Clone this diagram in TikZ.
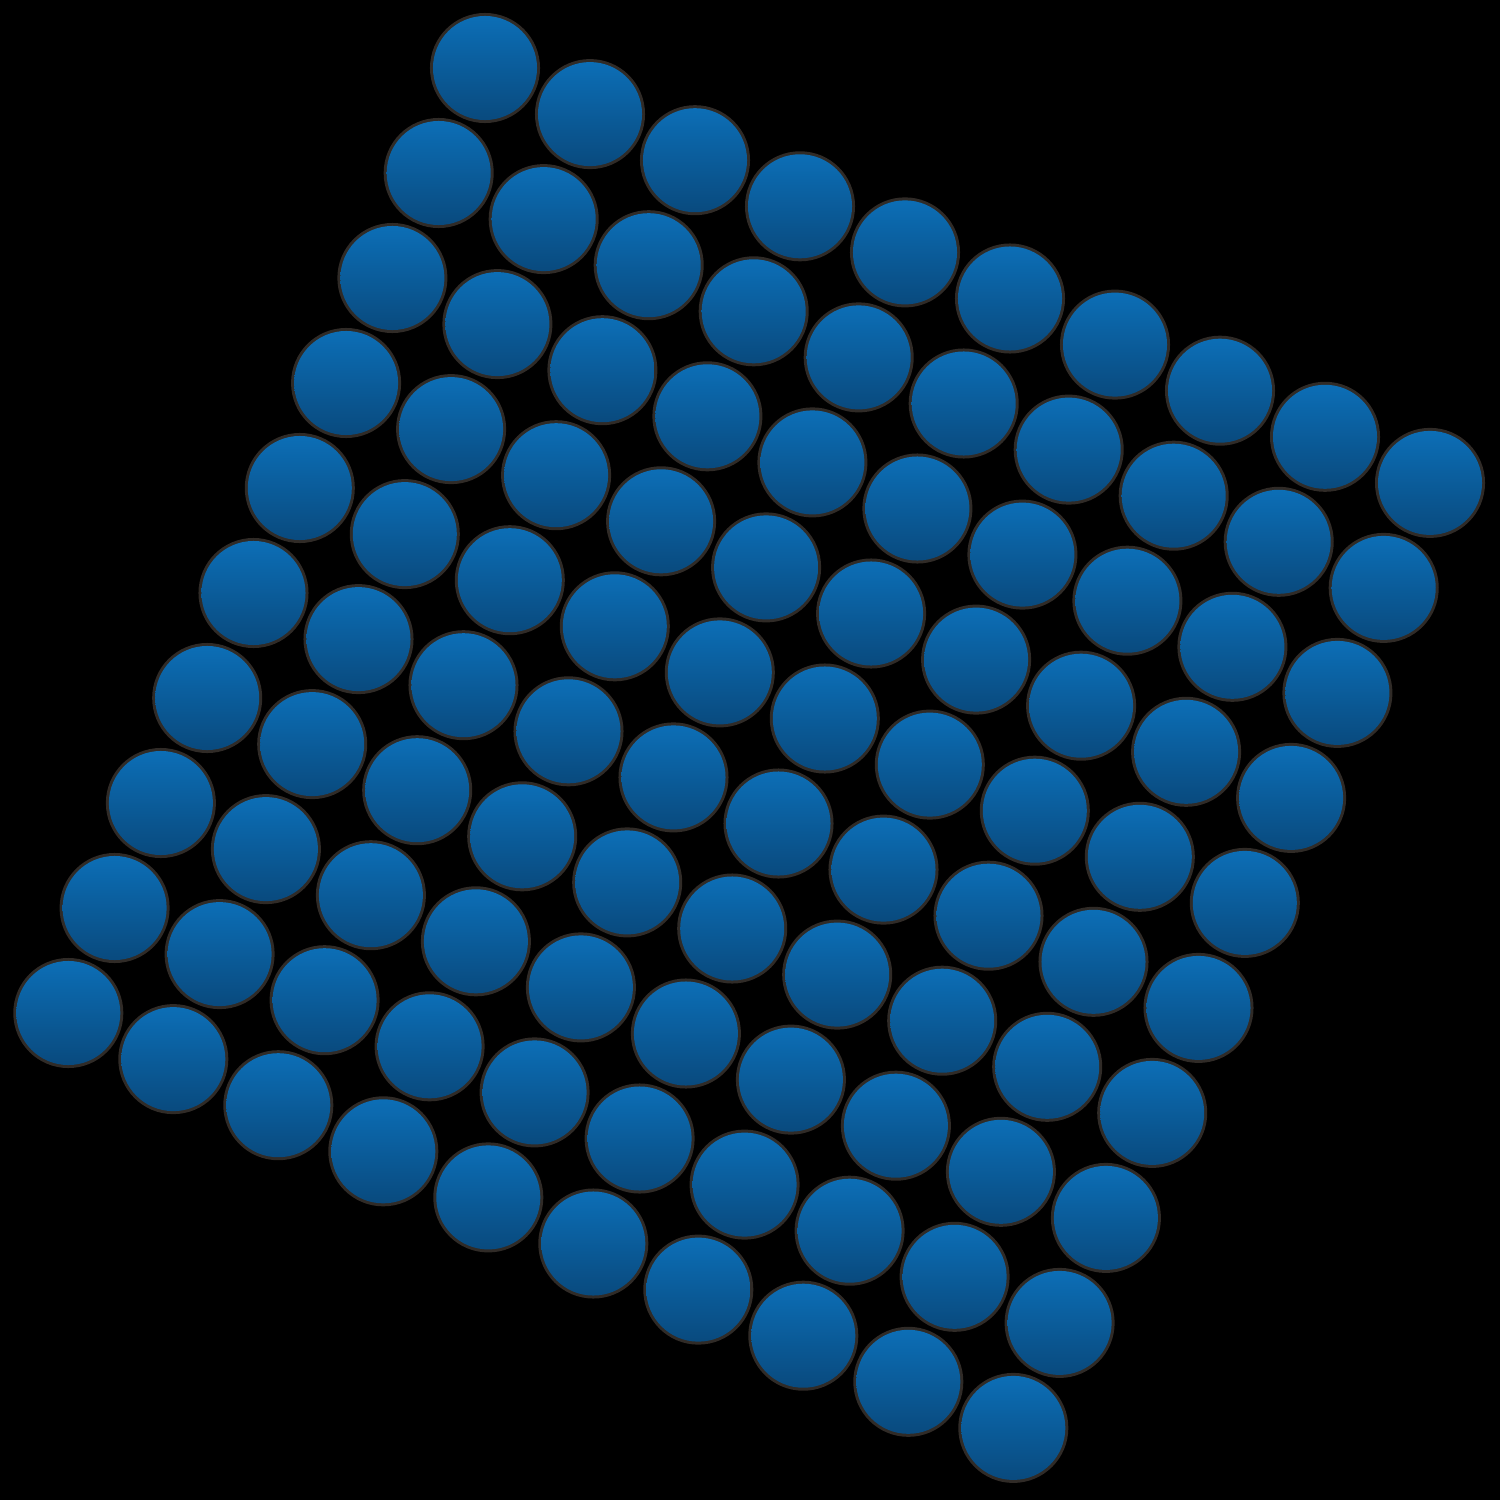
\documentclass[tikz,border=0pt]{standalone}
\usepackage{xcolor}
\usepackage{tikz}
\definecolor{balltop}{RGB}{12,110,182}
\definecolor{ballbot}{RGB}{9,74,126}
\definecolor{ballrim}{RGB}{48,43,39}

\begin{document}
\begin{tikzpicture}[
    x=0.01cm, y=-0.01cm,
    halo/.style={circle, inner sep=0pt, minimum size=1.1cm, fill=ballrim},
    ball/.style={circle, inner sep=0pt, minimum size=1.04cm, top color=balltop, bottom color=ballbot}
]

% Background
\fill[black] (0,0) rectangle (1500,1500);

% Soft rims behind the balls
\foreach \i in {0,...,9}
  \foreach \j in {0,...,9}
    \node[halo] (h\i\j) at ({485+105*\i-46.3*\j},{68+46.1*\i+105*\j}) {};

% Balls on the tilted square grid
\foreach \i in {0,...,9}
  \foreach \j in {0,...,9}
    \node[ball] (b\i\j) at ({485+105*\i-46.3*\j},{68+46.1*\i+105*\j}) {};

\end{tikzpicture}
\end{document}
